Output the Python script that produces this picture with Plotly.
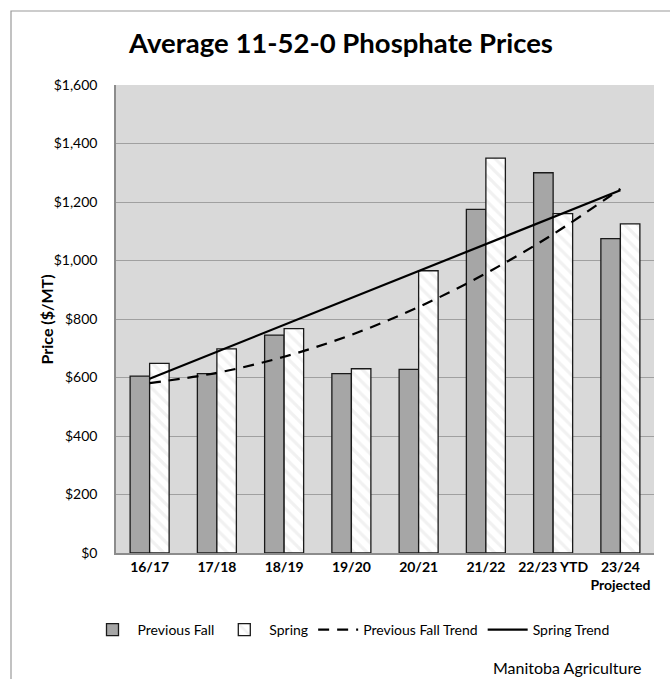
import plotly.graph_objects as go

# Categories and values
seasons = ["16/17", "17/18", "18/19", "19/20", "20/21", "21/22", "22/23 YTD", "23/24<br>Projected"]
previous_fall = [605, 613, 745, 613, 628, 1175, 1300, 1075]
spring = [648, 698, 767, 630, 965, 1350, 1160, 1125]
# Trendline values as drawn on the chart (poly for fall, linear for spring)
fall_trend = [581, 616, 671, 746, 841, 956, 1090, 1245]
spring_trend = [596, 688, 780, 872, 964, 1056, 1148, 1240]

y_ticks = [0, 200, 400, 600, 800, 1000, 1200, 1400, 1600]
y_tick_text = ["$0", "$200", "$400", "$600", "$800", "$1,000", "$1,200", "$1,400", "$1,600"]

FONT = "Lato, Open Sans, sans-serif"

# plot area in pixels: x 116..654, y 85..553
L, R, T, B = 116, 654, 85, 553
W, H = 670, 679


def px_x(x):
    return (x - L) / (R - L)


def px_y(y):
    return (B - y) / (B - T)


fig = go.Figure()
fig.add_trace(go.Bar(
    x=seasons, y=previous_fall, name="Previous Fall",
    marker=dict(color="#a6a6a6", line=dict(color="#1a1a1a", width=1.3)),
))
fig.add_trace(go.Bar(
    x=seasons, y=spring, name="Spring",
    marker=dict(
        color="white",
        line=dict(color="#1a1a1a", width=1.3),
        pattern=dict(shape="\\", fgcolor="#e3e3e3", bgcolor="white", size=9, solidity=0.35),
    ),
))
fig.add_trace(go.Scatter(
    x=seasons, y=fall_trend, name="Previous Fall Trend", mode="lines",
    line=dict(color="black", width=2.2, dash="11px,8px", shape="spline"),
))
fig.add_trace(go.Scatter(
    x=seasons, y=spring_trend, name="Spring Trend", mode="lines",
    line=dict(color="black", width=2.2),
))

# outer chart border (runs off the right / bottom edge like the screenshot)
fig.add_shape(type="rect", xref="paper", yref="paper",
              x0=px_x(11), x1=px_x(690), y0=px_y(700), y1=px_y(11),
              line=dict(color="#9a9a9a", width=1.2), fillcolor="rgba(0,0,0,0)", layer="below")

fig.add_annotation(text="<b>Price ($/MT)</b>", textangle=-90, xref="paper", yref="paper",
                   x=px_x(34), y=px_y(320), showarrow=False,
                   font=dict(family=FONT, size=16, color="black"))
fig.add_annotation(text="Manitoba Agriculture", xref="paper", yref="paper",
                   x=px_x(643), y=px_y(667), xanchor="right", yanchor="middle",
                   showarrow=False, font=dict(family=FONT, size=16, color="black"))

fig.update_layout(
    width=W, height=H,
    margin=dict(l=L, r=W - R, t=T, b=H - B),
    paper_bgcolor="white",
    plot_bgcolor="#d9d9d9",
    font=dict(family=FONT, size=14, color="black"),
    title=dict(text="<b>Average 11-52-0 Phosphate Prices</b>", x=341 / W, xanchor="center",
               y=1 - 43 / H, yanchor="middle", font=dict(family=FONT, size=27.5, color="black")),
    barmode="group", bargap=0.42, bargroupgap=0,
    showlegend=True,
    legend=dict(orientation="h", x=px_x(351), xanchor="center",
                y=px_y(630), yanchor="middle",
                font=dict(family=FONT, size=14), traceorder="normal", itemwidth=40),
    xaxis=dict(tickfont=dict(family=FONT, size=14, weight="bold"), showline=True,
               linecolor="#8c8c8c", linewidth=1.5, ticks=""),
    yaxis=dict(range=[0, 1600], tickvals=y_ticks, ticktext=y_tick_text,
               gridcolor="#a0a0a0", gridwidth=1.2, showline=True, linecolor="#8c8c8c",
               linewidth=1.5, zeroline=False, ticklabelstandoff=14,
               tickfont=dict(family=FONT, size=14)),
)

fig.write_html("out.html", config={"displayModeBar": False},
               post_script="document.body.style.margin='0';document.body.style.overflow='hidden';")
